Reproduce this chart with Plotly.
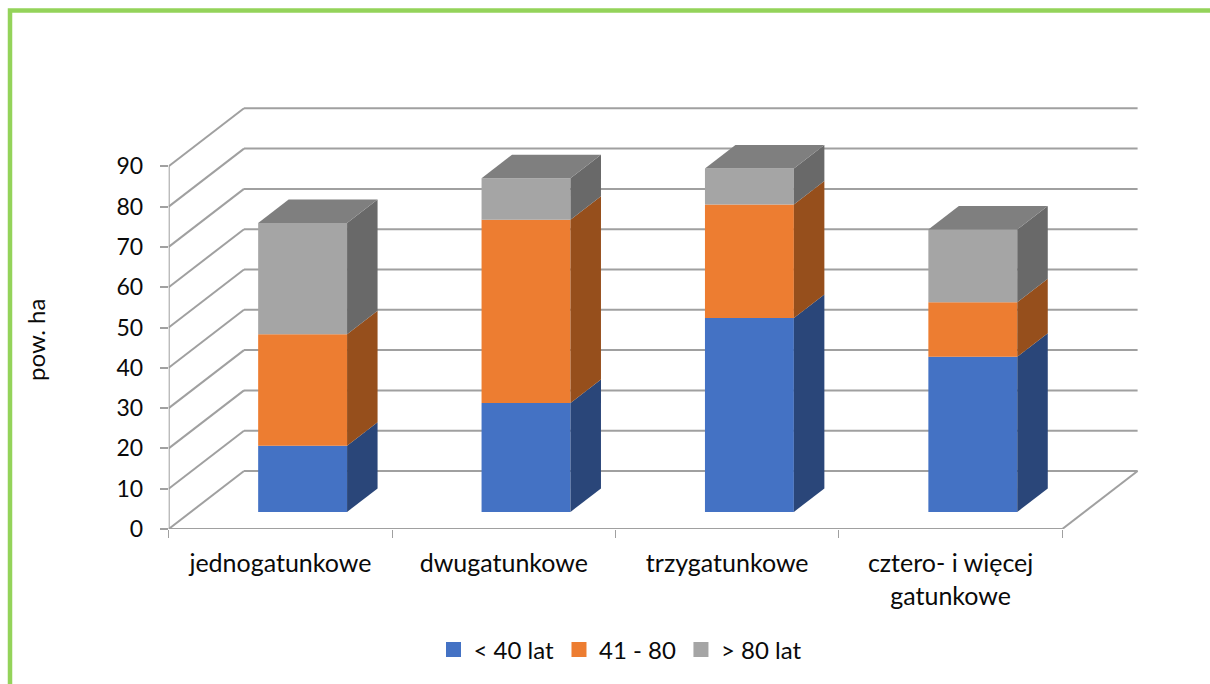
import plotly.graph_objects as go

# Stand area by age class for each stand type
categories = ["jednogatunkowe", "dwugatunkowe", "trzygatunkowe", "cztero- i więcej<br>gatunkowe"]
under_40 = [16.4, 27.0, 48.1, 38.5]
from_41_to_80 = [27.7, 45.5, 28.2, 13.5]
over_80 = [27.6, 10.3, 8.9, 18.1]
series_names = ["< 40 lat", "41 - 80", "> 80 lat"]
y_ticks = list(range(0, 100, 10))

front_colors = ["#4472C4", "#ED7D31", "#A5A5A5"]
side_colors = ["#2A4679", "#964F1C", "#696969"]
top_color = "#7F7F7F"
grid_color = "#A0A0A0"
text_color = "#0A0A0A"
frame_color = "#94D35A"
font_family = "Lato, Carlito, sans-serif"

W, H = 1210, 684
# Pixel scale of the front plane
x0_px, cat_px = 168.7, 223.4
y0_px, unit_px = 529.0, 4.03
plot_right_px, plot_top_px = 1144.0, 104.0

# Oblique projection: full floor depth expressed in axis units
depth_x = 75.3 / cat_px
depth_y = 58.0 / unit_px
bar_width = 0.398
bar_near, bar_far = 0.295, 0.70
n_cat = len(categories)


def project(x, value, depth):
    return x + depth * depth_x, value + depth * depth_y


fig = go.Figure()
series = [under_40, from_41_to_80, over_80]
stack = [0.0] * n_cat
centers = [i + 0.5 for i in range(n_cat)]

for name, vals, front, side in zip(series_names, series, front_colors, side_colors):
    bases = list(stack)
    # Front faces
    xs = [project(c, 0, bar_near)[0] for c in centers]
    ys_base = [project(0, b, bar_near)[1] for b in bases]
    fig.add_trace(go.Bar(x=xs, y=vals, base=ys_base, width=bar_width, name=name,
                         showlegend=False, marker=dict(color=front, line=dict(width=0))))
    # Legend swatch for the series
    fig.add_trace(go.Scatter(x=[None], y=[None], mode="markers", name=name,
                             marker=dict(symbol="square", size=15, color=front)))
    # Right-hand side faces
    for c, b, v in zip(centers, bases, vals):
        right = c + bar_width / 2
        corners = [project(right, b, bar_near), project(right, b + v, bar_near),
                   project(right, b + v, bar_far), project(right, b, bar_far),
                   project(right, b, bar_near)]
        fig.add_trace(go.Scatter(x=[p[0] for p in corners], y=[p[1] for p in corners],
                                 mode="lines", fill="toself", fillcolor=side,
                                 line=dict(width=0, color=side), showlegend=False,
                                 hoverinfo="skip"))
    stack = [b + v for b, v in zip(bases, vals)]

# Top caps of the stacks
for c, total in zip(centers, stack):
    left, right = c - bar_width / 2, c + bar_width / 2
    corners = [project(left, total, bar_near), project(right, total, bar_near),
               project(right, total, bar_far), project(left, total, bar_far),
               project(left, total, bar_near)]
    fig.add_trace(go.Scatter(x=[p[0] for p in corners], y=[p[1] for p in corners],
                             mode="lines", fill="toself", fillcolor=top_color,
                             line=dict(width=0, color=top_color), showlegend=False,
                             hoverinfo="skip"))

# Back-wall gridlines and their diagonals on the side wall
shapes = []
grid_line = dict(color=grid_color, width=2)
for t in y_ticks:
    bx, by = project(0, t, 1)
    ex, _ = project(n_cat, t, 1)
    shapes.append(dict(type="line", xref="x", yref="y", x0=0, y0=t, x1=bx, y1=by,
                       line=grid_line, layer="below"))
    shapes.append(dict(type="line", xref="x", yref="y", x0=bx, y0=by, x1=ex, y1=by,
                       line=grid_line, layer="below"))
# Right edge of the floor
fx, fy = project(n_cat, 0, 1)
shapes.append(dict(type="line", xref="x", yref="y", x0=n_cat, y0=0, x1=fx, y1=fy,
                   line=grid_line, layer="below"))

# Outer green frame, running off the right and bottom of the page
shapes.append(dict(type="rect", xref="paper", yref="paper",
                   x0=10 / W, x1=(W + 10) / W, y0=-10 / H, y1=1 - 10.5 / H,
                   line=dict(color=frame_color, width=4.5), fillcolor="rgba(0,0,0,0)",
                   layer="above"))

# Floor front edge and value axis line, left unclipped at the plot border
for xs, ys in [([0, n_cat], [0, 0]), ([0, 0], [0, y_ticks[-1]])]:
    fig.add_trace(go.Scatter(x=xs, y=ys, mode="lines", cliponaxis=False,
                             line=grid_line, showlegend=False, hoverinfo="skip"))

fig.update_layout(
    width=W, height=H,
    margin=dict(l=0, r=0, t=0, b=0),
    autosize=False,
    paper_bgcolor="white", plot_bgcolor="rgba(0,0,0,0)",
    barmode="overlay",
    shapes=shapes,
    font=dict(family=font_family, size=25, color=text_color),
    xaxis=dict(
        domain=[x0_px / W, plot_right_px / W],
        range=[0, (plot_right_px - x0_px) / cat_px],
        tickmode="array", tickvals=centers, ticktext=categories,
        ticks="", showgrid=False, zeroline=False, showline=False,
        ticklabelstandoff=17, automargin=False,
        tickfont=dict(size=25),
        minor=dict(tickmode="array", tickvals=list(range(n_cat + 1)), ticks="outside",
                   ticklen=8, tickwidth=1.2, tickcolor=grid_color, showgrid=False),
    ),
    yaxis=dict(
        domain=[1 - y0_px / H, 1 - plot_top_px / H],
        range=[0, (y0_px - plot_top_px) / unit_px],
        tickmode="array", tickvals=y_ticks,
        ticks="outside", ticklen=8, tickwidth=1.5, tickcolor=grid_color,
        showgrid=False, zeroline=False, showline=False,
        ticklabelstandoff=12, automargin=False,
        tickfont=dict(size=23),
    ),
    legend=dict(orientation="h", xanchor="center", yanchor="middle",
                x=620 / W, y=1 - 650 / H, font=dict(size=24),
                bgcolor="rgba(0,0,0,0)", traceorder="normal"),
    annotations=[dict(text="pow. ha", xref="paper", yref="paper", x=36 / W, y=1 - 340 / H,
                      textangle=-90, showarrow=False, font=dict(size=24),
                      xanchor="center", yanchor="middle")],
)

fig.write_html("out.html")
